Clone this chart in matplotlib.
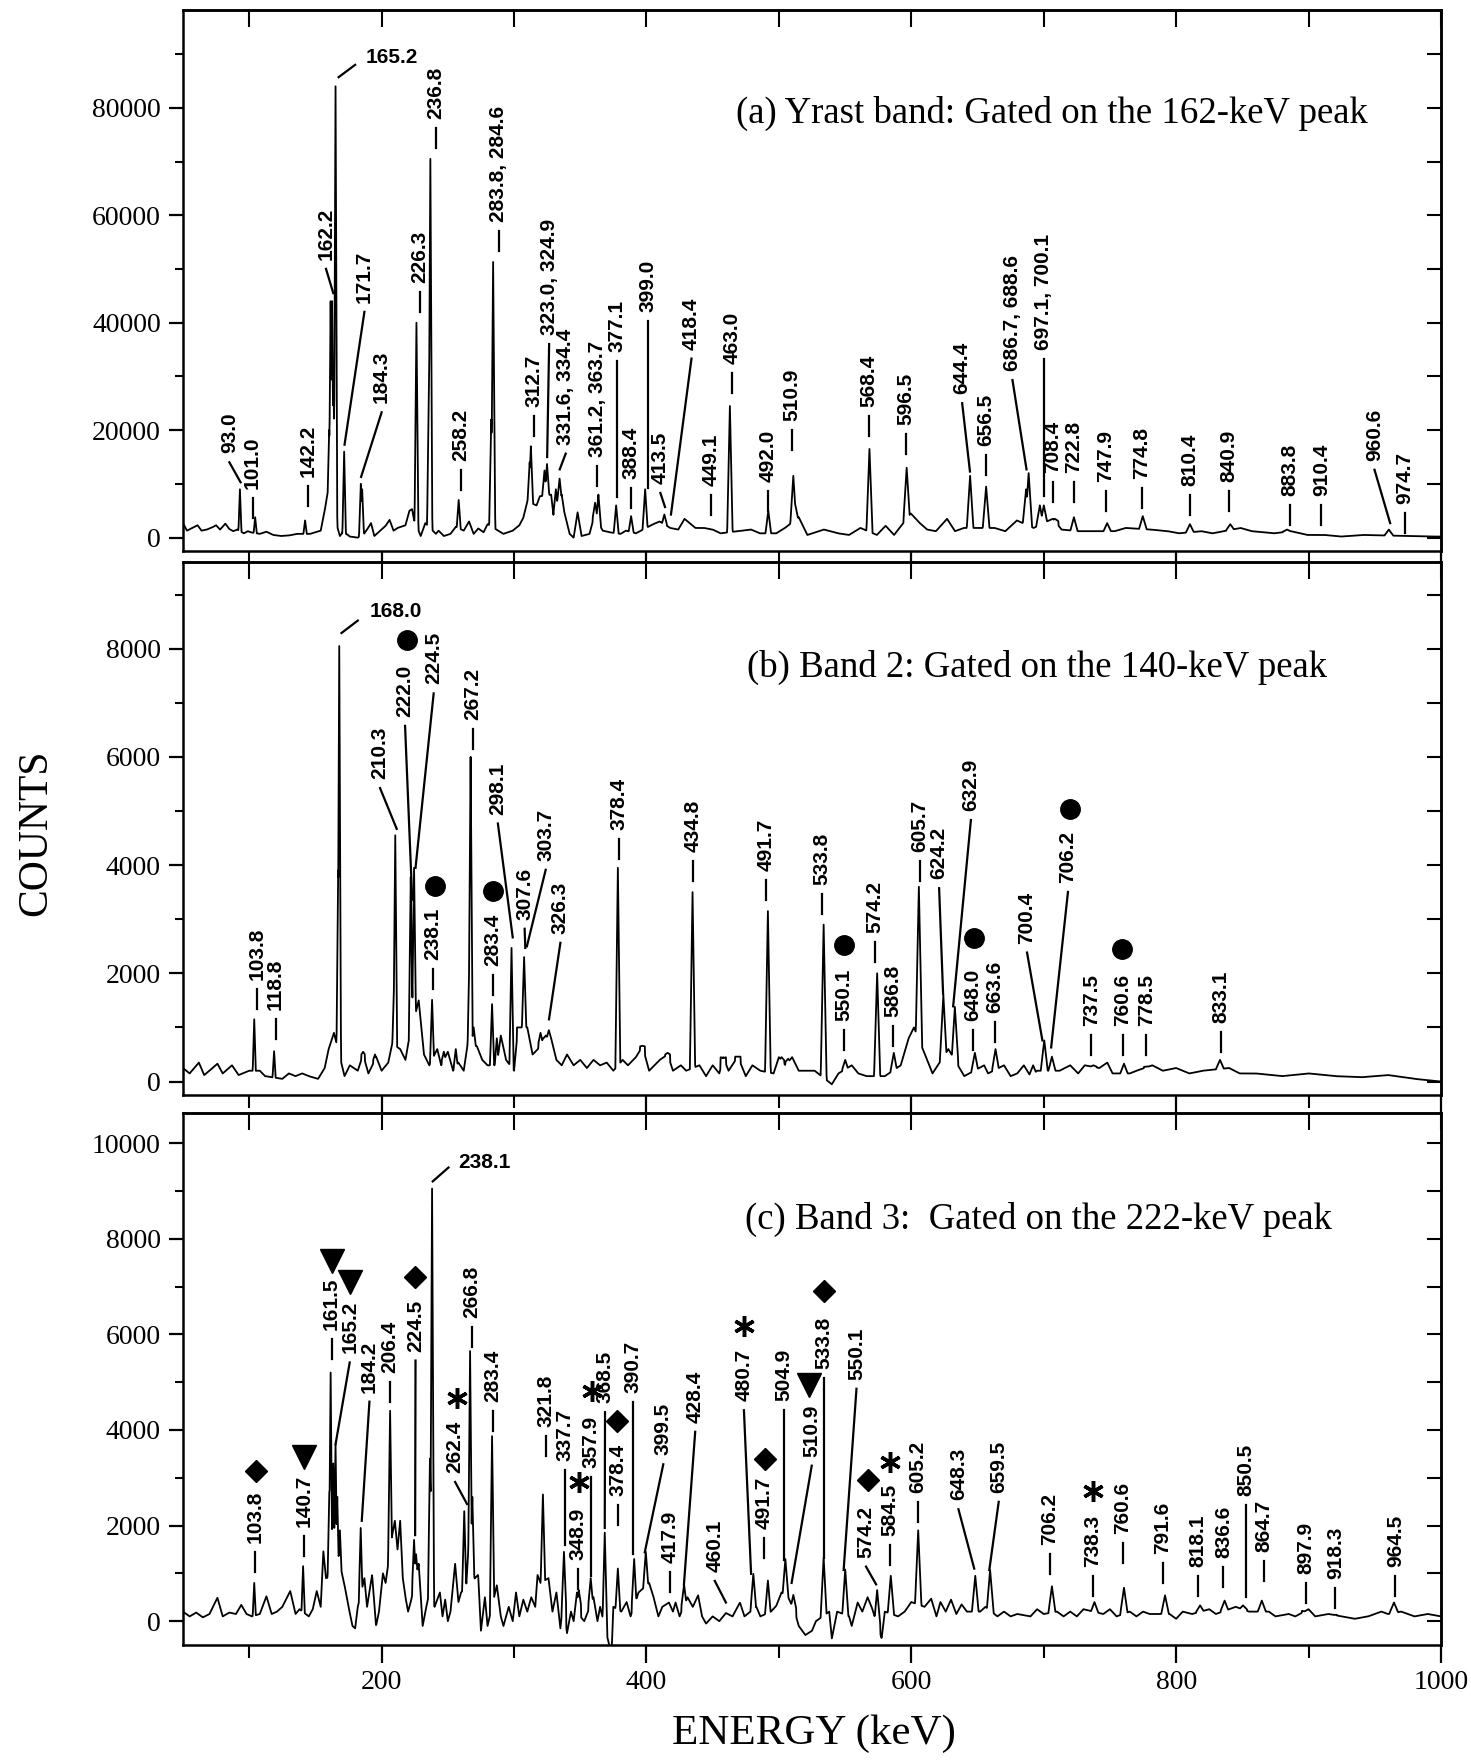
import numpy as np
import matplotlib
matplotlib.use("Agg")
import matplotlib.pyplot as plt
from matplotlib.ticker import MultipleLocator

# energy axis (keV)
x_min, x_max = 50, 1000
energy = np.arange(x_min, x_max + 0.01, 0.25)

# ---------------- (a) Yrast band ----------------
title_a = "(a) Yrast band: Gated on the 162-keV peak"
ylim_a = (-2500, 98200)
bg_a = [(50, 2700), (53, 1300), (57, 1800), (61, 2300), (64, 1300), (68, 1500), (72, 1900),
        (75, 2300), (78, 1500), (82, 2600), (85, 1600), (88, 1200), (91, 1500), (96, 800),
        (99, 1200), (101, 1000), (108, 700), (113, 1100), (118, 500), (124, 300), (130, 400),
        (136, 700), (146, 700), (150, 1000), (154, 1300), (157, 5000), (159, 8000),
        (166.5, 2000), (168.5, 300), (170, 800), (174, 600), (176, 200), (182, 0), (187, 800),
        (189, 1500), (192, 2700), (194.5, 300), (199, 1300), (203, 2200), (206, 3300),
        (209, 1300), (212, 1800), (214.5, 2000), (218, 2300), (221, 5000), (223, 5300),
        (224.5, 3300), (229.5, 300), (233, 2700), (241, 700), (243, 1300), (247, 300),
        (252, 700), (256, 2000), (262, 1300), (266, 3000), (269.5, 700), (273, 1700),
        (277, 1000), (280, 2500), (288, 1300), (292, 700), (299, 1300), (304, 2300),
        (307, 3700), (310, 6700), (317, 6000), (319.5, 7700), (328, 8000), (330, 3700),
        (336, 8000), (338, 4700), (342, 700), (345, 0), (348, 4700), (351, 300), (357, 700),
        (360.5, 4000), (367, 1300), (372, 1000), (380.5, 700), (384.5, 1300), (392, 800),
        (405, 2500), (410, 3000), (418, 1800), (424, 1500), (428.7, 3500), (437, 1800),
        (443.5, 1800), (450, 1500), (456, 800), (468.8, 1200), (479, 1500), (485.6, 800),
        (498, 800), (504.6, 1800), (515, 3800), (521.5, 500), (534, 1500), (544.7, 800),
        (553, 500), (561.6, 1800), (574, 500), (580.6, 2200), (587, 500), (599.6, 4500),
        (606, 2800), (612, 1500), (618.6, 1200), (627, 3500), (633, 1200), (639.7, 1800),
        (650, 1800), (662.9, 1800), (671, 1200), (679.7, 3200), (692.4, 1800), (704, 3200),
        (707, 3500), (713.5, 1500), (726, 1200), (739, 1200), (753.6, 1200), (762, 1800),
        (781, 1500), (793.7, 1200), (802, 800), (819, 1200), (827.5, 800), (848.6, 1800),
        (857, 1200), (874, 800), (886.6, 1200), (899, 500), (911.8, 500), (924.5, 200),
        (941, 500), (975, 300), (992, 200), (1000, 200)]
peaks_a = [(93.0, 9000), (104.5, 3800), (142.2, 3200), (160.4, 20000), (161.5, 44000),
           (162.6, 44000), (163.6, 30000), (165.2, 84000), (171.7, 16000), (184.3, 10000),
           (185.3, 9000), (226.3, 40000), (235.8, 31000), (236.8, 70500), (258.2, 7000),
           (282.8, 22000), (284.2, 51300), (311.8, 14000), (312.7, 17000), (323.0, 12500),
           (324.9, 13700), (331.6, 9000), (334.4, 11000), (361.2, 6500), (363.7, 8000),
           (377.1, 6000), (388.4, 4000), (399.0, 9000), (413.5, 4300), (463.0, 24500),
           (492.0, 5000), (510.9, 11500), (512.5, 6000), (568.4, 16500), (596.5, 13000),
           (644.4, 11500), (656.5, 9500), (686.7, 9000), (688.6, 12000), (697.1, 6000),
           (700.1, 6000), (708.4, 3500), (722.8, 3800), (747.9, 2700), (774.8, 4000),
           (810.4, 2500), (840.9, 2500), (883.8, 1500), (960.6, 1500)]
# (text, x, y of text start, leader tip x, leader tip y) - tip None means short dash
labels_a = [("93.0", 85, 15700, 93.5, 10300), ("101.0", 102.5, 9000, None, None),
            ("142.2", 144.5, 11300, None, None), ("162.2", 158, 51700, 163.5, 45500),
            ("171.7", 187, 43700, 172, 17300), ("184.3", 200, 25000, 184.5, 11300),
            ("226.3", 229, 47300, None, None), ("236.8", 241, 78000, None, None),
            ("258.2", 260, 14300, None, None), ("283.8, 284.6", 288.5, 58700, None, None),
            ("312.7", 315, 24300, None, None), ("323.0, 324.9", 326.5, 37700, 325, 15000),
            ("331.6, 334.4", 339, 17300, 334.5, 12700), ("361.2, 363.7", 363, 15000, None, None),
            ("377.1", 377.5, 34500, 377.5, 7500), ("388.4", 388.5, 11000, None, None),
            ("399.0", 401, 42000, 401, 9300), ("413.5", 410.5, 10000, 414, 5700),
            ("418.4", 434, 35000, 418.5, 4300), ("449.1", 448.5, 9700, None, None),
            ("463.0", 464.5, 32300, None, None), ("492.0", 492, 10300, None, None),
            ("510.9", 509.7, 21700, None, None), ("568.4", 568, 24300, None, None),
            ("596.5", 596, 21000, None, None), ("644.4", 638.4, 26700, 644.3, 12300),
            ("656.5", 656.5, 17000, None, None), ("686.7, 688.6", 676.4, 31000, 687, 12700),
            ("697.1, 700.1", 700, 35000, 700, 7700), ("708.4", 707, 12000, None, None),
            ("722.8", 722.5, 12000, None, None), ("747.9", 747, 10300, None, None),
            ("774.8", 774, 11000, None, None), ("810.4", 810.5, 9700, None, None),
            ("840.9", 840, 10300, None, None), ("883.8", 885.6, 7700, None, None),
            ("910.4", 909.7, 7700, None, None), ("960.6", 949.8, 14300, 961.6, 2700),
            ("974.7", 973, 6300, None, None)]
# horizontal labels: (text, x left, y, leader x0, y0, x1, y1)
flat_a = [("165.2", 188, 89300, 180, 88000, 167.5, 85700)]

# ---------------- (b) Band 2 ----------------
title_b = "(b) Band 2: Gated on the 140-keV peak"
ylim_b = (-250, 9600)
bg_b = [(50, 250), (55, 150), (62, 350), (66, 120), (70, 200), (76, 330), (80, 150), (87, 300),
        (92, 120), (100, 200), (108, 200), (112, 100), (125, 50), (130, 150), (135, 100),
        (140, 150), (145, 100), (152, 50), (157, 250), (160, 600), (164, 900), (172, 100),
        (176, 300), (182, 200), (186, 500), (190, 150), (196, 450), (200, 200), (205, 350),
        (208, 700), (214, 600), (218, 400), (220, 700), (228, 1500), (232, 500), (236, 300),
        (242, 600), (245, 300), (250, 550), (254, 200), (258, 350), (262, 200), (265, 700),
        (272, 650), (276, 400), (280, 300), (287, 300), (290, 850), (294, 400), (300, 200),
        (303, 1000), (310, 1000), (314, 500), (318, 600), (322, 800), (328, 800), (332, 400),
        (336, 300), (340, 500), (345, 300), (350, 400), (355, 250), (360, 400), (365, 300),
        (370, 350), (375, 200), (382, 400), (386, 300), (392, 450), (397, 650), (402, 200),
        (410, 400), (416, 500), (420, 200), (426, 300), (430, 200), (440, 300), (445, 100),
        (450, 300), (455, 150), (458, 450), (462, 200), (469, 460), (475, 100), (480, 300),
        (486, 200), (496, 150), (500, 450), (505, 300), (510, 450), (515, 200), (520, 200),
        (527, 200), (540, -50), (545, 150), (555, 300), (560, 150), (566, 100), (580, 100),
        (592, 300), (598, 800), (602, 1000), (612, 400), (616, 150), (628, 600), (640, 100),
        (655, 300), (658, 150), (670, 300), (675, 100), (680, 150), (685, 300), (690, 100),
        (695, 200), (712, 200), (720, 300), (726, 150), (731, 300), (742, 250), (748, 350),
        (752, 150), (765, 150), (770, 200), (782, 300), (790, 200), (800, 250), (810, 150),
        (820, 200), (840, 250), (848, 150), (860, 150), (880, 100), (900, 150), (920, 100),
        (940, 80), (960, 120), (980, 50), (1000, 0)]
peaks_b = [(103.8, 1150), (118.8, 560), (167.2, 3900), (168.0, 8050), (186, 550), (195, 500),
           (209.5, 1900), (210.3, 4550), (222.0, 3780), (224.5, 3950), (238.1, 1510),
           (247, 550), (256, 600), (266.5, 2600), (267.2, 6000), (269.5, 1000), (283.4, 1430),
           (287, 800), (298.1, 2470), (303.7, 1000), (307.6, 2300), (320, 900), (324, 850),
           (326.3, 950), (378.4, 3950), (397, 660), (416, 530), (434.8, 3500), (458, 430),
           (469, 460), (491.7, 3150), (502, 450), (507, 420), (533.8, 2900), (550.1, 400),
           (574.2, 2000), (586.8, 530), (605.7, 3600), (624.2, 1600), (632.9, 1380),
           (648.0, 530), (663.6, 600), (692, 300), (700.4, 760), (706.2, 460), (737.5, 300),
           (760.6, 330), (778.5, 280), (833.1, 400)]
labels_b = [("103.8", 106.2, 1875, None, None), ("118.8", 119.9, 1316, None, None),
            ("210.3", 198.8, 5590, 211.4, 4670), ("222.0", 217.7, 6740, 223.1, 3360),
            ("224.5", 239.3, 7340, 225.6, 3950), ("238.1", 238.8, 2240, None, None),
            ("267.2", 268.7, 6680, None, None), ("283.4", 284, 2140, None, None),
            ("298.1", 287.8, 4935, 299, 2665), ("307.6", 308, 2990, 308.5, 2470),
            ("303.7", 323.9, 4080, 309.7, 2500), ("326.3", 335, 2730, 326.4, 1150),
            ("378.4", 379, 4650, None, None), ("434.8", 435, 4240, None, None),
            ("491.7", 490, 3900, None, None), ("533.8", 532.3, 3640, None, None),
            ("550.1", 549, 1125, None, None), ("574.2", 572.4, 2750, None, None),
            ("586.8", 586, 1190, None, None), ("605.7", 606.3, 4240, None, None),
            ("624.2", 621, 3740, 624, 1620), ("632.9", 645, 5000, 631.6, 1390),
            ("648.0", 646.4, 1125, None, None), ("663.6", 663.3, 1260, None, None),
            ("700.4", 687.4, 2550, 699, 760), ("706.2", 718.3, 3670, 705.6, 630),
            ("737.5", 736, 1030, None, None), ("760.6", 759.7, 1030, None, None),
            ("778.5", 777.4, 1030, None, None), ("833.1", 833.6, 1090, None, None)]
flat_b = [("168.0", 190.8, 8690, 182, 8520, 169.7, 8290)]
circles_b = [(219.5, 8160), (240.5, 3620), (284, 3520), (549, 2520), (647.7, 2650),
             (719.5, 5030), (759.3, 2450)]

# ---------------- (c) Band 3 ----------------
title_c = "(c) Band 3:  Gated on the 222-keV peak"
ylim_c = (-500, 10630)
bg_c = [(50, 200), (55, 100), (60, 180), (65, 80), (70, 150), (76, 490), (80, 100), (85, 180),
        (90, 150), (94, 340), (98, 150), (102, 100), (108, 150), (113, 520), (117, 150),
        (121, 200), (125, 300), (131, 630), (135, 150), (138, 250), (145, 100), (148, 250),
        (151, 630), (154, 300), (156, 1460), (158, 900), (170, 1000), (172, 750), (175, 300),
        (178, -100), (180, -150), (182, 300), (187, 900), (189, 300), (192.8, 970),
        (195.8, -100), (198, 200), (201, 1000), (203, 800), (208, 1800), (210, 2100),
        (212, 1500), (214, 2100), (216, 900), (218, 500), (220, 200), (222, 400), (228, 1200),
        (231, -100), (233, 200), (236, 600), (240, 300), (244, 600), (246, 100), (248, 450),
        (250, 0), (252, 200), (255.5, 1200), (258, 400), (260, 600), (272.9, 970), (275, -200),
        (278, 500), (280, -100), (287, 750), (290, 100), (292, -100), (296, 300), (299, 0),
        (301.5, 600), (304, 100), (307, 450), (310, 200), (313, 500), (316, 300), (317.7, 970),
        (320, 800), (326, 900), (329, 200), (332, 600), (335, -150), (337, 400), (340, -250),
        (343, 200), (345, 0), (347.5, 600), (350, 100), (353, 0), (360, 500), (363, 0),
        (365, 300), (373.6, -700), (375, 300), (381, 200), (385, 400), (388, 100), (394, 600),
        (402, 800), (405, 540), (409, 100), (412, 300), (417, 390), (420, 200), (422, 390),
        (425, 100), (431, 500), (435, 300), (439, 540), (442, 100), (445, -50), (450, 100),
        (455, 0), (460, 170), (465, 100), (470.6, 390), (474, 100), (483, 300), (486, 100),
        (494, 200), (498, 320), (502, 600), (507, 500), (512, 200), (515, -100), (520, -290),
        (525, -200), (528, 0), (538, 200), (540, -360), (544, 200), (553, 100), (555, -100),
        (559.5, 390), (563, 200), (567, 500), (570, 300), (577.6, -360), (580, 200),
        (590, 100), (595, 200), (600, 400), (610, 300), (615, 470), (619, 100), (622, 400),
        (626, 200), (630, 450), (634, 150), (638, 350), (642, 200), (652, 200), (656, 300),
        (665, 100), (670, 200), (675, 100), (680, 150), (690, 100), (695, 250), (700, 150),
        (710, 200), (715, 100), (720, 200), (725, 100), (730, 250), (745, 150), (750, 250),
        (755, 100), (765, 200), (770, 100), (775, 200), (780, 150), (795, 150), (800, 50),
        (805, 200), (812, 150), (825, 250), (830, 150), (840, 250), (845, 300), (855, 200),
        (870, 200), (875, 100), (885, 150), (890, 100), (900, 250), (905, 100), (915, 150),
        (925, 100), (935, 50), (945, 100), (955, 200), (960, 150), (970, 200), (980, 100),
        (990, 150), (1000, 100)]
peaks_c = [(103.8, 800), (140.7, 1150), (160.5, 2700), (161.5, 5200), (163.5, 3300),
           (165.2, 3700), (166.5, 2600), (168.5, 1900), (184.2, 1950), (206.4, 4400),
           (224.5, 1700), (226, 1400), (236.5, 3400), (238.1, 9050), (262.4, 2300),
           (265.5, 1500), (266.8, 5650), (268.5, 2600), (283.4, 3870), (321.8, 2650),
           (337.7, 1450), (348.9, 650), (357.9, 900), (368.5, 1850), (378.4, 1100),
           (390.7, 1300), (399.5, 1450), (428.4, 770), (480.7, 990), (491.7, 850),
           (504.9, 1300), (510.9, 550), (533.8, 1330), (550.1, 1080), (574.2, 650),
           (584.5, 950), (605.2, 1900), (648.3, 950), (659.5, 1070), (706.2, 730),
           (738.3, 400), (760.6, 700), (791.6, 540), (818.1, 330), (836.6, 430), (850.5, 330),
           (864.7, 430), (897.9, 200), (918.3, 130), (964.5, 390)]
labels_c = [("103.8", 104.5, 1640, None, None), ("140.7", 141.5, 1980, None, None),
            ("161.5", 162.2, 6090, None, None), ("165.2", 175.9, 5600, 165.2, 3700),
            ("184.2", 190.8, 4780, 185, 2100), ("206.4", 206.2, 5190, None, None),
            ("224.5", 225.6, 5640, 225.3, 1800), ("262.4", 255.5, 3100, 264.5, 2450),
            ("266.8", 267.9, 6350, None, None), ("283.4", 284, 4590, None, None),
            ("321.8", 323.9, 4070, None, None), ("337.7", 338.8, 3360, 338.8, 1600),
            ("348.9", 348.3, 1270, None, None), ("357.9", 358.2, 3210, 358.2, 950),
            ("368.5", 368.7, 4560, 368.5, 1950), ("378.4", 378.6, 2610, None, None),
            ("390.7", 390, 4780, 390, 1400), ("399.5", 412.7, 3470, 398.7, 1440),
            ("417.9", 417.8, 1220, None, None), ("428.4", 436.8, 4150, 428.3, 770),
            ("460.1", 451.6, 1030, 460, 390), ("480.7", 473.6, 4600, 479, 990),
            ("491.7", 488.8, 1930, None, None), ("504.9", 503.6, 4600, 503.6, 1290),
            ("510.9", 524.8, 3440, 509.6, 800), ("533.8", 534.1, 5280, 534.1, 1330),
            ("550.1", 558.6, 5050, 548.9, 1070), ("574.2", 565.8, 1330, 573.4, 770),
            ("584.5", 584, 1780, None, None), ("605.2", 604.7, 2685, None, None),
            ("648.3", 635.6, 2530, 647.5, 1100), ("659.5", 666, 2685, 658.9, 1070),
            ("706.2", 704.6, 1590, None, None), ("738.3", 737.1, 1140, None, None),
            ("760.6", 759.6, 1820, None, None), ("791.6", 790, 1400, None, None),
            ("818.1", 816.2, 1140, None, None), ("836.6", 835.7, 1330, None, None),
            ("850.5", 852.6, 2610, 852.6, 500), ("864.7", 866.2, 1440, None, None),
            ("897.9", 897.9, 990, None, None), ("918.3", 920.3, 880, None, None),
            ("964.5", 965.6, 1140, None, None)]
flat_c = [("238.1", 258, 9600, 250.5, 9490, 238.6, 9200)]
diamonds_c = [(105, 3140), (224.9, 7210), (377.4, 4180), (489.7, 3400), (534.1, 6900),
              (567, 2950)]
triangles_c = [(141.5, 3440), (162.7, 7540), (175.9, 7100), (522.7, 4940)]
stars_c = [(256.7, 4670), (349.3, 2910), (358.7, 4820), (473.6, 6180), (584, 3320),
           (737.1, 2720)]

SERIF = "Liberation Serif"
SANS = "Liberation Sans"
FIG_H = 1760


def spectrum(bg, peaks):
    be, bc = np.array(bg, dtype=float).T
    x = np.union1d(energy, [e for e, _ in peaks])
    y = np.interp(x, be, bc)
    for e, h in peaks:
        hw = 0.9 + 0.0025 * e
        b = np.interp(e, be, bc)
        w = 1 - np.abs(x - e) / hw
        inside = w > 0
        y[inside] = np.maximum(y[inside], b + (h - b) * w[inside])
    return x, y


def panel(rect, ylim, ymajor, yminor, bg, peaks, labels, flat, title, title_xy, last=False):
    ax = fig.add_axes(rect)
    x, y = spectrum(bg, peaks)
    ax.plot(x, y, color="k", lw=1.3)
    ax.set_xlim(x_min, x_max)
    ax.set_ylim(*ylim)
    ypp = (ylim[1] - ylim[0]) / (rect[3] * FIG_H)

    for t, tx, ty, px, py in labels:
        ax.text(tx, ty, t, rotation=90, ha="center", va="bottom", fontsize=15,
                fontweight="bold", family=SANS)
        y0 = ty - 9 * ypp
        if px is None:
            ax.plot([tx, tx], [y0, y0 - 20 * ypp], color="k", lw=1.6)
        else:
            ax.plot([tx, px], [y0, py], color="k", lw=1.6)
    for t, tx, ty, x0, y0, x1, y1 in flat:
        ax.text(tx, ty, t, ha="left", va="center", fontsize=15, fontweight="bold", family=SANS)
        ax.plot([x0, x1], [y0, y1], color="k", lw=1.6)

    ax.text(title_xy[0], title_xy[1], title, ha="center", va="center", fontsize=26.5,
            family=SERIF)

    for s in ax.spines.values():
        s.set_linewidth(1.8)
    ax.xaxis.set_major_locator(MultipleLocator(200))
    ax.xaxis.set_minor_locator(MultipleLocator(100))
    ax.yaxis.set_major_locator(MultipleLocator(ymajor))
    ax.yaxis.set_minor_locator(MultipleLocator(yminor))
    ax.tick_params(axis="x", which="major", direction="out", length=13, width=1.6,
                   labelbottom=last, labelsize=20, pad=5)
    ax.tick_params(axis="x", which="minor", direction="out", length=9, width=1.5)
    ax.tick_params(axis="y", which="major", direction="out", length=10, width=1.6,
                   labelsize=20, pad=6)
    ax.tick_params(axis="y", which="minor", direction="out", length=6, width=1.5)
    for lab in ax.get_xticklabels() + ax.get_yticklabels():
        lab.set_family(SERIF)

    top = ax.secondary_xaxis("top")
    top.xaxis.set_major_locator(MultipleLocator(100))
    top.tick_params(direction="in", length=12, width=1.5, labeltop=False)
    top.spines["top"].set_linewidth(1.8)
    right = ax.secondary_yaxis("right")
    right.yaxis.set_major_locator(MultipleLocator(yminor))
    right.tick_params(direction="in", length=10, width=1.5, labelright=False)
    right.spines["right"].set_linewidth(1.8)
    return ax


fig = plt.figure(figsize=(14.71, 17.6), dpi=100)

panel([0.1244, 0.6869, 0.8552, 0.3074], ylim_a, 20000, 10000, bg_a, peaks_a, labels_a,
      flat_a, title_a, (706, 79000))
ax_b = panel([0.1244, 0.3778, 0.8552, 0.3028], ylim_b, 2000, 1000, bg_b, peaks_b, labels_b,
             flat_b, title_b, (695, 7650))
ax_c = panel([0.1244, 0.0653, 0.8552, 0.3023], ylim_c, 2000, 1000, bg_c, peaks_c, labels_c,
             flat_c, title_c, (696, 8400), last=True)

cx, cy = zip(*circles_b)
ax_b.plot(cx, cy, "o", ms=14, color="k", ls="none")
dx, dy = zip(*diamonds_c)
ax_c.plot(dx, dy, "D", ms=11, color="k", ls="none")
tx, ty = zip(*triangles_c)
ax_c.plot(tx, ty, "v", ms=17, color="k", ls="none")
sx, sy = zip(*stars_c)
ax_c.plot(sx, sy, marker=(6, 2, 0), ms=15, mew=2.5, color="k", ls="none")

fig.text(0.0245, 0.527, "COUNTS", rotation=90, ha="center", va="center", fontsize=30,
         family=SERIF)
fig.text(0.553, 0.015, "ENERGY (keV)", ha="center", va="center", fontsize=31, family=SERIF)

fig.savefig("out.png", dpi=100)
